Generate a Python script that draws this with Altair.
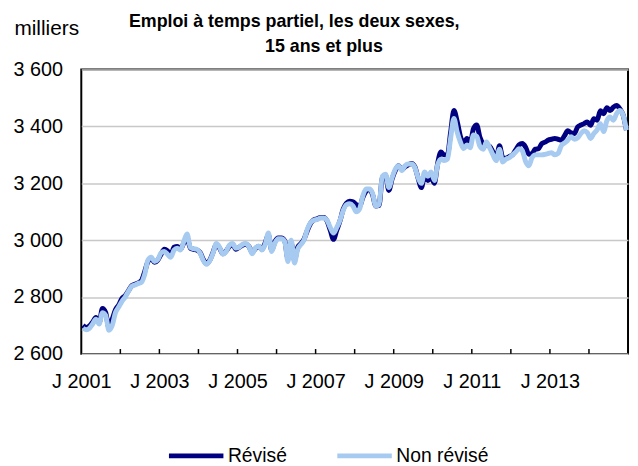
import altair as alt
import pandas as pd

# Monthly values, January 2001 - December 2014 (thousands)
revise = [
    2700, 2693, 2698, 2712, 2728, 2710, 2760, 2745, 2692, 2722,
    2755, 2772, 2795, 2805, 2822, 2840, 2845, 2850, 2858, 2890,
    2925, 2935, 2922, 2930, 2950, 2968, 2962, 2948, 2975, 2978,
    2968, 2990, 3008, 2972, 2968, 2965, 2957, 2932, 2918, 2930,
    2958, 2985, 2972, 2952, 2962, 2978, 2985, 2968, 2975, 2982,
    2986, 2978, 2958, 2970, 2978, 2968, 2990, 3018, 2965, 2995,
    3008, 3008, 2998, 2935, 2990, 2930, 2975, 2988, 3005, 3035,
    3060, 3072, 3075, 3080, 3080, 3068, 3035, 3003, 3035, 3068,
    3110, 3130, 3137, 3135, 3125, 3118, 3150, 3172, 3178, 3160,
    3120, 3122, 3220, 3228, 3175, 3215, 3245, 3262, 3248, 3258,
    3265, 3270, 3258, 3218, 3185, 3225, 3210, 3220, 3200, 3270,
    3310, 3300, 3300, 3380, 3456, 3418, 3365, 3340, 3358, 3340,
    3392, 3405, 3362, 3340, 3335, 3330, 3310, 3285, 3332, 3290,
    3288, 3294, 3300, 3318, 3335, 3340, 3328, 3302, 3305, 3320,
    3322, 3340, 3345, 3352, 3355, 3358, 3355, 3352, 3368, 3385,
    3378, 3375, 3398, 3405, 3410, 3416, 3404, 3427, 3422, 3455,
    3445, 3466, 3456, 3468, 3474, 3462, 3440, 3387,
]
non_revise = [
    2690, 2685, 2690, 2705, 2722, 2705, 2745, 2735, 2683, 2700,
    2745, 2765, 2785, 2800, 2820, 2838, 2842, 2848, 2852, 2880,
    2930, 2940, 2925, 2932, 2955, 2960, 2950, 2940, 2965, 2972,
    2965, 2995, 3022, 2975, 2970, 2968, 2955, 2928, 2915, 2928,
    2955, 2988, 2975, 2950, 2960, 2982, 2988, 2972, 2975, 2985,
    2988, 2978, 2952, 2972, 2980, 2965, 2985, 3025, 2960, 2990,
    3005, 3005, 2995, 2925, 3000, 2920, 2968, 2985, 3002, 3040,
    3062, 3070, 3073, 3078, 3078, 3070, 3045, 3025, 3045, 3070,
    3105, 3125, 3128, 3120, 3100, 3110, 3155, 3180, 3180, 3165,
    3120, 3125, 3225, 3232, 3185, 3220, 3250, 3262, 3245, 3262,
    3268, 3268, 3255, 3220, 3200, 3240, 3225, 3240, 3210, 3265,
    3285, 3280, 3285, 3360, 3428, 3380, 3345, 3322, 3335, 3325,
    3370, 3365, 3330, 3320, 3345, 3325, 3300, 3280, 3320, 3275,
    3285, 3290, 3300, 3310, 3322, 3315, 3278, 3262, 3290, 3300,
    3300, 3300, 3302, 3305, 3308, 3300, 3305, 3332, 3342, 3352,
    3364, 3355, 3360, 3375, 3385, 3378, 3358, 3375, 3388, 3410,
    3382, 3420, 3433, 3422, 3445, 3456, 3440, 3387,
]
series_names = ["Révisé", "Non révisé"]
series_colors = ["#000080", "#a6caf0"]
first_year = 2001
n_months = len(revise)
label_years = [2001, 2003, 2005, 2007, 2009, 2011, 2013]
y_ticks = [2600, 2800, 3000, 3200, 3400, 3600]
title_line1 = "Emploi à temps partiel, les deux sexes,"
title_line2 = "15 ans et plus"

rows = []
for i, v in enumerate(revise):
    rows.append({"t": i + 0.5, "v": v, "s": series_names[0]})
for i, v in enumerate(non_revise):
    rows.append({"t": i + 0.5, "v": v, "s": series_names[1]})
df = pd.DataFrame(rows)

label_pos = [(y - first_year) * 12 for y in label_years]
year_bounds = list(range(12, n_months, 12))
ticks_df = pd.DataFrame({"t": year_bounds, "y0": [2600] * len(year_bounds), "y1": [2617] * len(year_bounds)})

FONT = "Liberation Sans"

x_enc = alt.X(
    "t:Q",
    scale=alt.Scale(domain=[0, n_months], nice=False, zero=False),
    axis=alt.Axis(
        values=label_pos,
        labelExpr=f"'J ' + ({first_year} + datum.value / 12)",
        ticks=False, domain=False, grid=False, title=None, labelFlush=False,
        labelFontSize=20, labelPadding=18, labelFont=FONT, labelColor="black",
    ),
)
y_enc = alt.Y(
    "v:Q",
    scale=alt.Scale(domain=[2600, 3600], nice=False, zero=False),
    axis=alt.Axis(
        values=y_ticks,
        labelExpr="replace(format(datum.value, ','), ',', ' ')",
        ticks=False, domain=False, grid=True, gridColor="#c8c8c8", gridWidth=1.5,
        labelFontSize=20, labelPadding=19, labelFont=FONT, labelColor="black",
        title="milliers", titleAngle=0, titleAlign="left", titleBaseline="middle",
        titleX=-68, titleY=-41, titleFontWeight="normal", titleFontSize=21,
        titleFont=FONT, titleColor="black",
    ),
)
color_enc = alt.Color(
    "s:N",
    scale=alt.Scale(domain=series_names, range=series_colors),
    legend=alt.Legend(
        title=None, orient="none", legendX=86, legendY=360, direction="horizontal",
        symbolType="stroke", symbolSize=3025, symbolStrokeWidth=5,
        labelFontSize=19.5, labelFont=FONT, labelColor="black", columnPadding=40,
        labelOffset=2,
    ),
)

base = alt.Chart(df)
dark = base.transform_filter(alt.datum.s == series_names[0]).mark_line(
    strokeWidth=5, interpolate="monotone"
).encode(x=x_enc, y=y_enc, color=color_enc)
light = base.transform_filter(alt.datum.s == series_names[1]).mark_line(
    strokeWidth=5, interpolate="monotone"
).encode(x=x_enc, y=y_enc, color=color_enc)
ticks = alt.Chart(ticks_df).mark_rule(color="black", strokeWidth=1.5).encode(
    x="t:Q", y="y0:Q", y2="y1:Q"
)
# second line of the title, placed slightly right as in the original
title2 = alt.Chart(pd.DataFrame({"txt": [title_line2]})).mark_text(
    font=FONT, fontSize=18, fontWeight="bold", color="black",
    align="center", baseline="alphabetic",
).encode(text="txt:N", x=alt.value(245), y=alt.value(-18))

chart = alt.layer(dark, light, ticks, title2).properties(
    width=552, height=287,
    title=alt.TitleParams(
        text=title_line1,
        anchor="middle", dx=-61, offset=-27, fontSize=18, fontWeight="bold",
        font=FONT, color="black", baseline="alphabetic",
    ),
    autosize=alt.AutoSizeParams(type="none"),
    padding={"left": 74, "top": 60, "right": 2, "bottom": 111},
).configure_view(stroke="black", strokeWidth=2)

chart.save("out.html", embed_options={"renderer": "svg", "actions": False})
